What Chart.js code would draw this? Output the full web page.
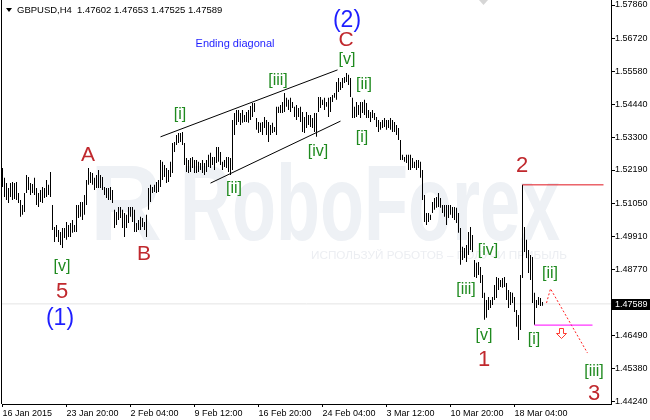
<!DOCTYPE html>
<html>
<head>
<meta charset="utf-8">
<script src="https://cdn.jsdelivr.net/npm/chart.js@4.4.1/dist/chart.umd.min.js"></script>
<style>
  html, body { margin: 0; padding: 0; background: #fff; }
  #wrap { width: 650px; height: 420px; }
</style>
</head>
<body>
<div id="wrap"><canvas id="chart" width="650" height="420"></canvas></div>
<script>
// --- Data (GBPUSD H4, one value per bar) ---
const symbol = "GBPUSD,H4";
const lastBar = [1.47602, 1.47653, 1.47525, 1.47589]; // open high low close

const highs = [
  1.5226, 1.5192, 1.5174, 1.5157, 1.5174, 1.5178, 1.5174, 1.5178, 1.5140, 1.5116,
  1.5099, 1.5140, 1.5202, 1.5195, 1.5174, 1.5171, 1.5192, 1.5157, 1.5140, 1.5150,
  1.5161, 1.5157, 1.5185, 1.5168, 1.5212, 1.5099, 1.5023, 1.5030, 1.5013, 1.5006,
  1.5020, 1.5020, 1.5040, 1.5030, 1.5037, 1.5047, 1.5030, 1.5099, 1.5099, 1.5109,
  1.5109, 1.5133, 1.5185, 1.5226, 1.5212, 1.5209, 1.5192, 1.5202, 1.5219, 1.5202,
  1.5195, 1.5161, 1.5157, 1.5157, 1.5161, 1.5150, 1.5082, 1.5075, 1.5092, 1.5092,
  1.5082, 1.5071, 1.5065, 1.5092, 1.5092, 1.5092, 1.5082, 1.5037, 1.5047, 1.5058,
  1.5054, 1.5040, 1.5065, 1.5157, 1.5168, 1.5161, 1.5168, 1.5178, 1.5185, 1.5253,
  1.5247, 1.5236, 1.5226, 1.5219, 1.5247, 1.5312, 1.5315, 1.5339, 1.5346, 1.5346,
  1.5350, 1.5312, 1.5260, 1.5253, 1.5260, 1.5264, 1.5253, 1.5253, 1.5247, 1.5243,
  1.5253, 1.5243, 1.5253, 1.5271, 1.5278, 1.5264, 1.5264, 1.5298, 1.5298, 1.5281,
  1.5247, 1.5253, 1.5264, 1.5264, 1.5260, 1.5391, 1.5415, 1.5425, 1.5425, 1.5415,
  1.5425, 1.5408, 1.5418, 1.5425, 1.5439, 1.5449, 1.5449, 1.5398, 1.5384, 1.5381,
  1.5384, 1.5401, 1.5391, 1.5384, 1.5374, 1.5381, 1.5367, 1.5436, 1.5436, 1.5442,
  1.5453, 1.5484, 1.5467, 1.5460, 1.5467, 1.5453, 1.5436, 1.5442, 1.5432, 1.5436,
  1.5418, 1.5401, 1.5418, 1.5408, 1.5408, 1.5398, 1.5415, 1.5415, 1.5470, 1.5470,
  1.5460, 1.5467, 1.5453, 1.5467, 1.5470, 1.5477, 1.5484, 1.5521, 1.5535, 1.5521,
  1.5535, 1.5539, 1.5552, 1.5546, 1.5535, 1.5467, 1.5436, 1.5453, 1.5442, 1.5453,
  1.5453, 1.5460, 1.5449, 1.5425, 1.5418, 1.5425, 1.5415, 1.5401, 1.5391, 1.5384,
  1.5391, 1.5398, 1.5391, 1.5391, 1.5398, 1.5391, 1.5384, 1.5374, 1.5363, 1.5322,
  1.5271, 1.5264, 1.5271, 1.5271, 1.5271, 1.5260, 1.5247, 1.5253, 1.5253, 1.5247,
  1.5219, 1.5133, 1.5071, 1.5071, 1.5065, 1.5109, 1.5123, 1.5126, 1.5140, 1.5123,
  1.5099, 1.5099, 1.5099, 1.5099, 1.5099, 1.5092, 1.5092, 1.5089, 1.5071, 1.5020,
  1.4955, 1.4951, 1.4961, 1.5006, 1.5023, 1.4996, 1.4910, 1.4900, 1.4903, 1.4886,
  1.4858, 1.4797, 1.4772, 1.4783, 1.4772, 1.4783, 1.4824, 1.4851, 1.4848, 1.4841,
  1.4848, 1.4851, 1.4831, 1.4807, 1.4800, 1.4797, 1.4783, 1.4738, 1.4721, 1.4858,
  1.5168, 1.5023, 1.4979, 1.4944, 1.4927, 1.4920, 1.4797, 1.4772, 1.4783, 1.4779,
  1.47653
];

const lows = [
  1.5161, 1.5126, 1.5116, 1.5106, 1.5126, 1.5116, 1.5119, 1.5116, 1.5106, 1.5058,
  1.5065, 1.5075, 1.5140, 1.5150, 1.5133, 1.5140, 1.5133, 1.5099, 1.5092, 1.5109,
  1.5106, 1.5123, 1.5126, 1.5133, 1.5126, 1.5013, 1.4972, 1.4989, 1.4972, 1.4961,
  1.4951, 1.4985, 1.4979, 1.4989, 1.4989, 1.5003, 1.5006, 1.5006, 1.5054, 1.5058,
  1.5047, 1.5065, 1.5099, 1.5168, 1.5174, 1.5168, 1.5150, 1.5157, 1.5157, 1.5157,
  1.5150, 1.5133, 1.5123, 1.5116, 1.5116, 1.5106, 1.5020, 1.5030, 1.5047, 1.5054,
  1.5020, 1.4989, 1.5020, 1.5037, 1.5058, 1.5040, 1.5006, 1.5006, 1.5013, 1.5013,
  1.5023, 1.5013, 1.4989, 1.5082, 1.5109, 1.5140, 1.5143, 1.5140, 1.5143, 1.5161,
  1.5185, 1.5195, 1.5174, 1.5178, 1.5195, 1.5209, 1.5281, 1.5305, 1.5312, 1.5315,
  1.5305, 1.5236, 1.5212, 1.5209, 1.5212, 1.5226, 1.5209, 1.5209, 1.5212, 1.5219,
  1.5209, 1.5202, 1.5212, 1.5229, 1.5226, 1.5236, 1.5219, 1.5243, 1.5247, 1.5236,
  1.5219, 1.5229, 1.5226, 1.5212, 1.5202, 1.5219, 1.5339, 1.5374, 1.5384, 1.5374,
  1.5381, 1.5384, 1.5384, 1.5381, 1.5391, 1.5401, 1.5418, 1.5357, 1.5346, 1.5350,
  1.5339, 1.5363, 1.5339, 1.5315, 1.5339, 1.5346, 1.5350, 1.5339, 1.5415, 1.5415,
  1.5415, 1.5418, 1.5436, 1.5425, 1.5418, 1.5432, 1.5401, 1.5391, 1.5401, 1.5384,
  1.5350, 1.5346, 1.5363, 1.5374, 1.5367, 1.5363, 1.5350, 1.5333, 1.5418, 1.5432,
  1.5442, 1.5425, 1.5436, 1.5401, 1.5418, 1.5453, 1.5467, 1.5460, 1.5487, 1.5494,
  1.5501, 1.5518, 1.5521, 1.5511, 1.5470, 1.5398, 1.5398, 1.5401, 1.5408, 1.5398,
  1.5415, 1.5408, 1.5398, 1.5398, 1.5384, 1.5398, 1.5391, 1.5367, 1.5350, 1.5357,
  1.5363, 1.5367, 1.5357, 1.5363, 1.5357, 1.5350, 1.5350, 1.5339, 1.5322, 1.5253,
  1.5253, 1.5247, 1.5243, 1.5219, 1.5219, 1.5226, 1.5226, 1.5219, 1.5226, 1.5192,
  1.5116, 1.5040, 1.5030, 1.5040, 1.5047, 1.5071, 1.5082, 1.5089, 1.5092, 1.5089,
  1.5071, 1.5058, 1.5030, 1.5054, 1.5065, 1.5054, 1.5047, 1.5037, 1.5003, 1.4893,
  1.4910, 1.4917, 1.4903, 1.4927, 1.4944, 1.4937, 1.4851, 1.4848, 1.4858, 1.4831,
  1.4779, 1.4704, 1.4711, 1.4738, 1.4745, 1.4755, 1.4772, 1.4779, 1.4807, 1.4817,
  1.4814, 1.4817, 1.4772, 1.4745, 1.4755, 1.4762, 1.4731, 1.4680, 1.4635, 1.4669,
  1.4848, 1.4937, 1.4917, 1.4865, 1.4841, 1.4762, 1.4687, 1.4745, 1.4755, 1.4752,
  1.47525
];

// time axis: one label every 32 bars
const xTickIdx = [0, 32, 64, 96, 128, 160, 192, 224, 256];
const xTickLabels = ["16 Jan 2015", "23 Jan 20:00", "2 Feb 04:00", "9 Feb 12:00", "16 Feb 20:00",
  "24 Feb 04:00", "3 Mar 12:00", "10 Mar 20:00", "18 Mar 04:00"];
const yTicks = [1.57860, 1.56720, 1.55580, 1.54440, 1.53300, 1.52190, 1.51050,
  1.49910, 1.48770, 1.46490, 1.45380, 1.44240];

// drawn objects: [bar index, price]
const diagUpper = [[79, 1.5333], [167.5, 1.5563]];
const diagLower = [[104, 1.5174], [169, 1.5387]];
const level2 = [[260, 1.5168], [300.5, 1.5168]];
const levelI = [[266, 1.4686], [295, 1.4686]];
const forecast = [[272, 1.4762], [274, 1.4811], [292.5, 1.4590]];
const arrowAt = [279, 1.4676];

const BLUE = "#1e1eff", RED = "#c0282d", GREEN = "#1f8a1f";
const waveLabels = [
  { text: "Ending diagonal", i: 116.25, p: 1.5652, color: BLUE, size: 11 },
  { text: "(2)", i: 172.25, p: 1.5731, color: BLUE, size: 23 },
  { text: "C", i: 171.75, p: 1.5666, color: RED, size: 21 },
  { text: "[v]", i: 172.25, p: 1.5600, color: GREEN, size: 16 },
  { text: "[ii]", i: 180.75, p: 1.5511, color: GREEN, size: 16 },
  { text: "[i]", i: 179.75, p: 1.5329, color: GREEN, size: 16 },
  { text: "[iii]", i: 137.75, p: 1.5525, color: GREEN, size: 16 },
  { text: "[i]", i: 88.75, p: 1.5408, color: GREEN, size: 16 },
  { text: "[ii]", i: 115.75, p: 1.5154, color: GREEN, size: 16 },
  { text: "[iv]", i: 157.75, p: 1.5281, color: GREEN, size: 16 },
  { text: "A", i: 42.75, p: 1.5271, color: RED, size: 21 },
  { text: "B", i: 70.75, p: 1.4930, color: RED, size: 21 },
  { text: "[v]", i: 29.75, p: 1.4886, color: GREEN, size: 16 },
  { text: "5", i: 29.75, p: 1.4800, color: RED, size: 22 },
  { text: "(1)", i: 28.75, p: 1.4707, color: BLUE, size: 23 },
  { text: "2", i: 259.75, p: 1.5233, color: RED, size: 22 },
  { text: "[iv]", i: 242.75, p: 1.4941, color: GREEN, size: 16 },
  { text: "[iii]", i: 231.75, p: 1.4807, color: GREEN, size: 16 },
  { text: "[v]", i: 240.75, p: 1.4649, color: GREEN, size: 16 },
  { text: "1", i: 240.75, p: 1.4566, color: RED, size: 22 },
  { text: "[ii]", i: 273.75, p: 1.4862, color: GREEN, size: 16 },
  { text: "[i]", i: 265.75, p: 1.4635, color: GREEN, size: 16 },
  { text: "[iii]", i: 295.75, p: 1.4525, color: GREEN, size: 16 },
  { text: "3", i: 295.75, p: 1.4449, color: RED, size: 22 }
];

const FONT = "'Liberation Sans', Arial, sans-serif";
Chart.defaults.font.family = FONT;
Chart.defaults.color = "#000";

const toXY = pts => pts.map(([x, y]) => ({ x, y }));
const lineSet = (pts, color, dash, order) => ({
  type: "line",
  data: toXY(pts),
  borderColor: color,
  borderWidth: 1,
  borderDash: dash || [],
  pointRadius: 0,
  fill: false,
  tension: 0,
  order: order || 0
});

// --- Decorations: watermark, wave labels, frame, price box ---
const decor = {
  id: "decor",
  beforeDatasetsDraw(chart) {
    const { ctx } = chart;
    ctx.save();
    ctx.fillStyle = "#eef1f5";
    ctx.textBaseline = "alphabetic";
    ctx.font = "bold 108px " + FONT;
    let w = ctx.measureText("RoboForex").width;
    ctx.save();
    ctx.translate(180, 240);
    ctx.scale(380 / w, 1);
    ctx.fillText("RoboForex", 0, 0);
    ctx.restore();
    w = ctx.measureText("R").width;
    ctx.save();
    ctx.translate(90, 240);
    ctx.scale(72 / w, 1);
    ctx.fillText("R", 0, 0);
    ctx.restore();
    ctx.fillStyle = "#eceef2";
    ctx.font = "11px " + FONT;
    const sub = "ИСПОЛЬЗУЙ РОБОТОВ – ПОЛУЧИ ПРИБЫЛЬ";
    w = ctx.measureText(sub).width;
    ctx.translate(311, 259);
    ctx.scale(256 / w, 1);
    ctx.fillText(sub, 0, 0);
    ctx.restore();
  },
  afterDatasetsDraw(chart) {
    const { ctx, chartArea: a } = chart;
    const xs = chart.scales.x, ys = chart.scales.y;
    ctx.save();
    ctx.textAlign = "center";
    ctx.textBaseline = "middle";
    waveLabels.forEach(l => {
      ctx.font = l.size + "px " + FONT;
      ctx.fillStyle = l.color;
      ctx.fillText(l.text, xs.getPixelForValue(l.i), ys.getPixelForValue(l.p));
    });

    // hollow down arrow
    const ax = Math.round(xs.getPixelForValue(arrowAt[0])) + 0.5;
    const ay = Math.round(ys.getPixelForValue(arrowAt[1])) + 0.5;
    ctx.beginPath();
    ctx.moveTo(ax - 2, ay); ctx.lineTo(ax + 2, ay); ctx.lineTo(ax + 2, ay + 5);
    ctx.lineTo(ax + 5, ay + 5); ctx.lineTo(ax, ay + 10); ctx.lineTo(ax - 5, ay + 5);
    ctx.lineTo(ax - 2, ay + 5); ctx.closePath();
    ctx.fillStyle = "#fff";
    ctx.fill();
    ctx.strokeStyle = "#ff3b30";
    ctx.lineWidth = 1;
    ctx.stroke();

    // left frame line
    ctx.fillStyle = "#000";
    ctx.fillRect(a.left - 1, 0, 1, a.bottom);

    // chart shift marker
    ctx.fillStyle = "#d6d6d6";
    ctx.beginPath();
    ctx.moveTo(479, 0); ctx.lineTo(488, 0); ctx.lineTo(483.5, 5); ctx.closePath();
    ctx.fill();

    // title
    ctx.fillStyle = "#000";
    ctx.beginPath();
    ctx.moveTo(6, 8); ctx.lineTo(12, 8); ctx.lineTo(9, 12); ctx.closePath();
    ctx.fill();
    ctx.textAlign = "left";
    ctx.font = "9.5px " + FONT;
    ctx.fillText(symbol, 17, 10);
    ctx.fillText(lastBar.map(v => v.toFixed(5)).join(" "), 77, 10);

    // current price box on the axis
    const py = ys.getPixelForValue(lastBar[3]);
    ctx.fillStyle = "#000";
    ctx.fillRect(a.right, Math.round(py) - 5, 650 - a.right, 11);
    ctx.fillStyle = "#fff";
    ctx.font = "9px " + FONT;
    ctx.fillText(lastBar[3].toFixed(5), a.right + 4, py + 0.5);
    ctx.restore();
  }
};

// --- Chart ---
const bars = highs.map((h, i) => ({ x: i, y: [lows[i], h] }));

new Chart(document.getElementById("chart"), {
  type: "bar",
  data: {
    datasets: [
      {
        type: "bar",
        data: bars,
        backgroundColor: "#000",
        borderWidth: 0,
        barThickness: 1,
        inflateAmount: 0,
        order: 1
      },
      lineSet([[-0.25, lastBar[3]], [304.25, lastBar[3]]], "#e4e4e4", null, 5),
      lineSet(diagUpper, "#000"),
      lineSet(diagLower, "#000"),
      lineSet(level2, "#e0141e"),
      lineSet(levelI, "#ff00ff"),
      lineSet(forecast, "#ff2020", [2, 2])
    ]
  },
  options: {
    responsive: false,
    animation: false,
    layout: { padding: { left: 2, top: 0, right: 0, bottom: 0 } },
    plugins: { legend: { display: false }, tooltip: { enabled: false } },
    scales: {
      x: {
        type: "linear",
        min: -0.25,
        max: 304.25,
        offset: false,
        grid: { offset: false, drawOnChartArea: false, color: "#000", tickLength: 3 },
        border: { color: "#000" },
        ticks: {
          autoSkip: false,
          maxRotation: 0,
          align: "start",
          padding: 1,
          font: { size: 9 },
          color: "#000",
          callback: (v, idx) => xTickLabels[idx]
        },
        afterBuildTicks: axis => { axis.ticks = xTickIdx.map(v => ({ value: v })); },
        afterFit: s => { s.height = 16; s.paddingLeft = 0; s.paddingRight = 0; }
      },
      y: {
        position: "right",
        min: 1.44149,
        max: 1.58032,
        grid: { drawOnChartArea: false, color: "#000", tickLength: 4 },
        border: { color: "#000" },
        ticks: {
          autoSkip: false,
          padding: 0,
          font: { size: 9 },
          color: "#000",
          callback: v => v.toFixed(5)
        },
        afterBuildTicks: axis => { axis.ticks = yTicks.map(v => ({ value: v })); },
        afterFit: s => { s.width = 39; s.paddingTop = 0; s.paddingBottom = 0; }
      }
    }
  },
  plugins: [decor]
});
</script>
</body>
</html>
